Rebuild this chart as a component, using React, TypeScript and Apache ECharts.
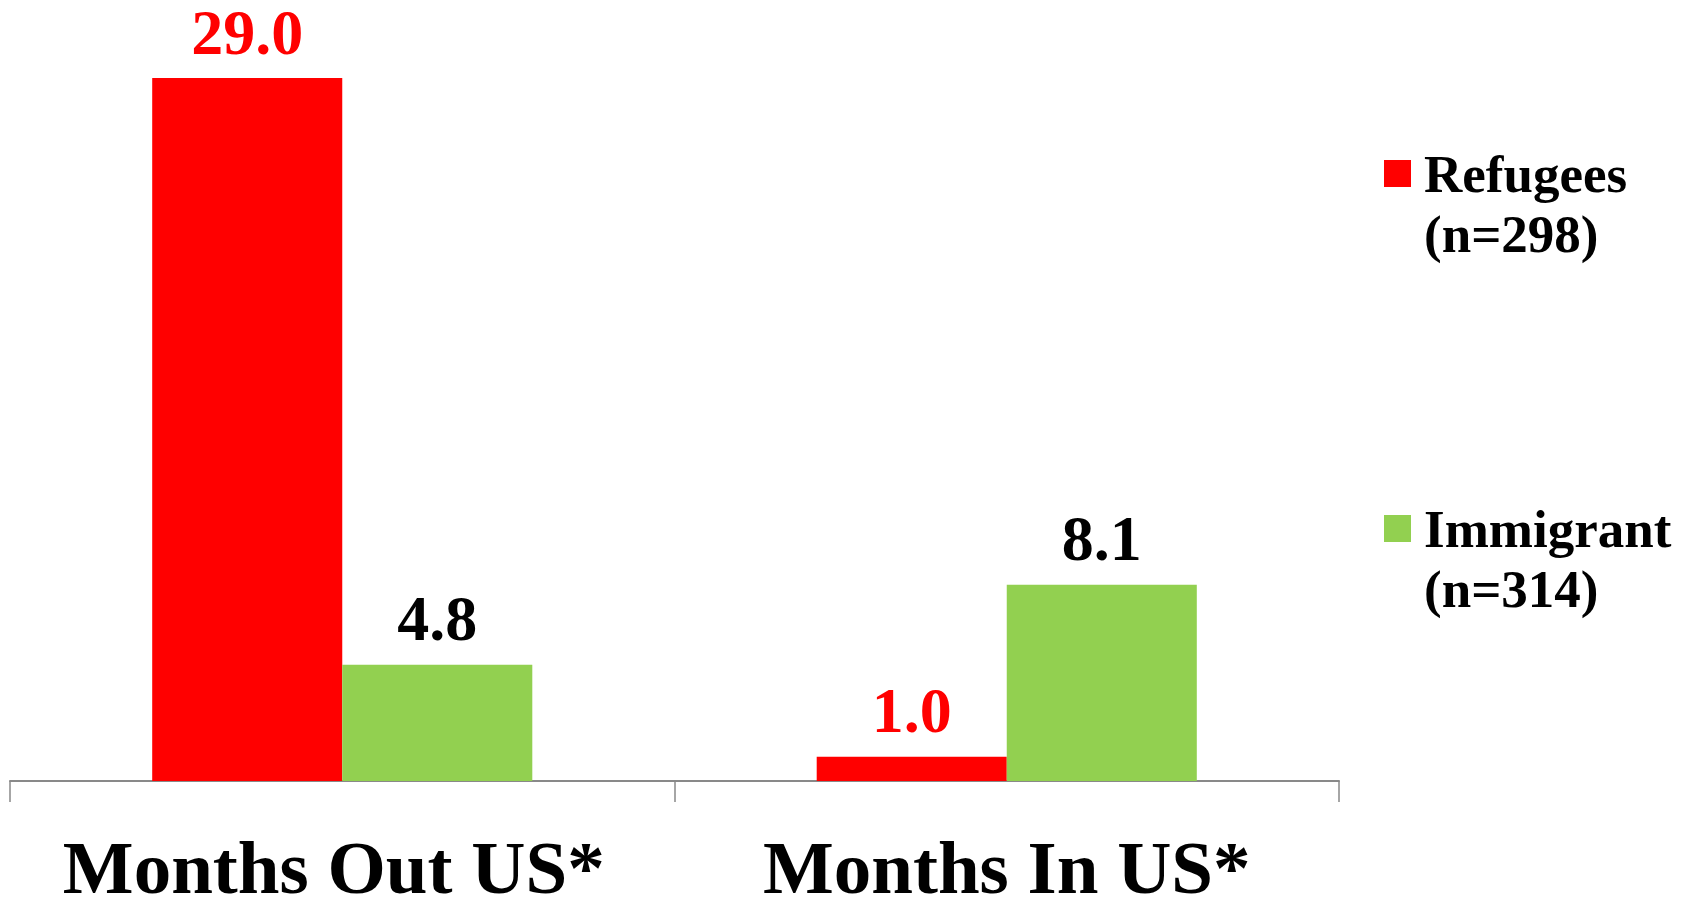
import React, { useEffect, useRef } from "react";
import * as echarts from "echarts";

const categories = ["Months Out US*", "Months In US*"];
const refugees = [29.0, 1.0];
const immigrants = [4.8, 8.1];
const seriesNames = ["Refugees", "Immigrant"];
const sampleSizes = ["(n=298)", "(n=314)"];

const FONT = "'Liberation Serif', 'Times New Roman', serif";

export default function App() {
  const ref = useRef<HTMLDivElement>(null);
  useEffect(() => {
    if (!ref.current) return;
    const chart = echarts.init(ref.current, null, { renderer: "svg" });
    const legendText = {
      fontFamily: FONT,
      fontWeight: "bold",
      fontSize: 53,
      lineHeight: 60,
      color: "#000",
      padding: [0, 0, 0, 8],
    };
    const fmt = (name: string) => {
      const i = seriesNames.indexOf(name);
      return " \n" + name + "\n" + sampleSizes[i];
    };
    const legendBase = {
      left: 1384,
      padding: 0,
      orient: "vertical",
      icon: "rect",
      itemWidth: 27,
      itemHeight: 27,
      selectedMode: false,
      formatter: fmt,
      textStyle: legendText,
    };
    const barLabel = (color: string) => ({
      show: true,
      position: "top",
      distance: 21,
      formatter: (p: any) => Number(p.value).toFixed(1),
      fontFamily: FONT,
      fontWeight: "bold",
      fontSize: 64,
      lineHeight: 50,
      color,
    });
    const catData = categories.map((c, i) =>
      i === 0 ? { value: c, textStyle: { padding: [0, 17, 0, 0] } } : { value: c }
    );
    chart.setOption({
      animation: false,
      backgroundColor: "#fff",
      grid: {
        left: 10,
        right: 353,
        top: 78,
        bottom: 118,
        containLabel: false,
        outerBoundsMode: "none",
      },
      legend: [
        { ...legendBase, data: [seriesNames[0]], top: 83.5 },
        { ...legendBase, data: [seriesNames[1]], top: 438.5 },
      ],
      xAxis: {
        type: "category",
        data: catData,
        axisLine: { show: true, lineStyle: { color: "#898989", width: 2 } },
        axisTick: { show: true, length: 21, lineStyle: { color: "#898989", width: 1.5 } },
        axisLabel: {
          interval: 0,
          margin: 58,
          fontFamily: FONT,
          fontWeight: "bold",
          fontSize: 75,
          lineHeight: 56,
          color: "#000",
        },
      },
      yAxis: {
        type: "value",
        min: 0,
        max: 29,
        show: false,
        splitLine: { show: false },
      },
      series: [
        {
          name: seriesNames[0],
          type: "bar",
          data: refugees,
          barGap: "0%",
          barCategoryGap: "42.8%",
          itemStyle: { color: "#FF0000" },
          label: barLabel("#FF0000"),
        },
        {
          name: seriesNames[1],
          type: "bar",
          data: immigrants,
          barGap: "0%",
          barCategoryGap: "42.8%",
          itemStyle: { color: "#92D050" },
          label: barLabel("#000"),
        },
      ],
    });
    return () => chart.dispose();
  }, []);
  return (
    <div
      ref={ref}
      style={{ position: "absolute", left: 0, top: 0, width: 1692, height: 899 }}
    />
  );
}
